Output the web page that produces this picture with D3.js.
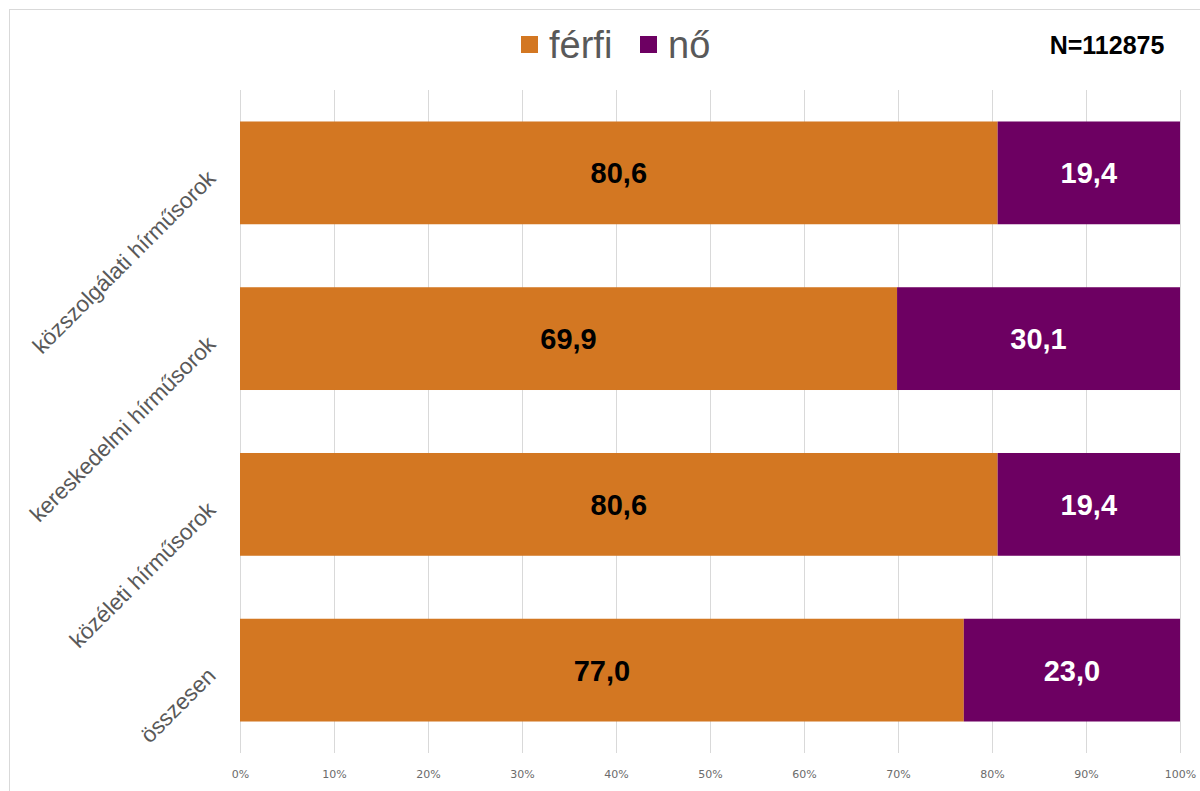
<!DOCTYPE html>
<html>
<head>
<meta charset="utf-8">
<script src="https://cdn.jsdelivr.net/npm/d3@7"></script>
<style>
    body { margin: 0; background: #fff; }
    svg { display: block; }
</style>
</head>
<body>
<svg id="chart" width="1200" height="791"></svg>
<script>
const categories = ["közszolgálati hírműsorok", "kereskedelmi hírműsorok", "közéleti hírműsorok", "összesen"];
const series = ["férfi", "nő"];
const ferfi = [80.6, 69.9, 80.6, 77.0];
const no = [19.4, 30.1, 19.4, 23.0];
const ticks = [0, 10, 20, 30, 40, 50, 60, 70, 80, 90, 100];
const note = "N=112875";

const colors = { "férfi": "#d37722", "nő": "#6d0062" };
const labelColors = { "férfi": "#000", "nő": "#fff" };

const svg = d3.select("#chart");

// chart frame (Excel style)
svg.append("rect")
    .attr("x", 9.5).attr("y", 9.5)
    .attr("width", 1200).attr("height", 800)
    .attr("fill", "none")
    .attr("stroke", "#d9d9d9");

const x = d3.scaleLinear().domain([0, 100]).range([240, 1180]);
const y = d3.scaleBand().domain(categories).range([90, 753]).paddingInner(0.38).paddingOuter(0.19);

// gridlines
svg.append("g")
    .selectAll("line")
    .data(ticks)
    .join("line")
    .attr("x1", d => Math.round(x(d)) + 0.5)
    .attr("x2", d => Math.round(x(d)) + 0.5)
    .attr("y1", 90)
    .attr("y2", 753)
    .attr("stroke", "#d9d9d9");

// tick labels
const axis = d3.axisBottom(x).tickValues(ticks).tickFormat(d => d + "%").tickSize(0);
svg.append("g")
    .attr("transform", "translate(0,767)")
    .call(axis)
    .call(g => g.select(".domain").remove())
    .selectAll("text")
    .attr("font-family", "DejaVu Sans")
    .attr("font-size", 11)
    .attr("fill", "#6b6b6b");

// stacked data
const rows = categories.map((c, i) => ({ cat: c, "férfi": ferfi[i], "nő": no[i] }));
const stacked = d3.stack().keys(series)(rows);

const layers = svg.append("g")
    .selectAll("g")
    .data(stacked)
    .join("g")
    .attr("fill", d => colors[d.key]);

layers.selectAll("rect")
    .data(d => d)
    .join("rect")
    .attr("x", d => x(d[0]))
    .attr("y", d => y(d.data.cat))
    .attr("width", d => x(d[1]) - x(d[0]))
    .attr("height", y.bandwidth());

// value labels
stacked.forEach(layer => {
    svg.append("g")
        .selectAll("text")
        .data(layer)
        .join("text")
        .attr("x", d => (x(d[0]) + x(d[1])) / 2)
        .attr("y", d => y(d.data.cat) + y.bandwidth() / 2)
        .attr("dy", "0.36em")
        .attr("text-anchor", "middle")
        .attr("font-family", "Liberation Sans, Arial, sans-serif")
        .attr("font-weight", "bold")
        .attr("font-size", 29)
        .attr("fill", labelColors[layer.key])
        .text(d => (d[1] - d[0]).toFixed(1).replace(".", ","));
});

// category labels, rotated
svg.append("g")
    .selectAll("text")
    .data(categories)
    .join("text")
    .attr("transform", d => `translate(217,${y(d) + y.bandwidth() / 2 + 7}) rotate(-45)`)
    .attr("text-anchor", "end")
    .attr("font-family", "Liberation Sans, Arial, sans-serif")
    .attr("font-size", 22.5)
    .attr("fill", "#595959")
    .text(d => d);

// legend
const legend = svg.append("g").attr("transform", "translate(521,0)");
const items = legend.selectAll("g")
    .data(series)
    .join("g")
    .attr("transform", (d, i) => `translate(${i * 119},0)`);
items.append("rect")
    .attr("x", 0).attr("y", 36)
    .attr("width", 17).attr("height", 17)
    .attr("fill", d => colors[d]);
items.append("text")
    .attr("x", 28).attr("y", 58)
    .attr("font-family", "Liberation Sans, Arial, sans-serif")
    .attr("font-size", 38)
    .attr("fill", "#595959")
    .text(d => d);

svg.append("text")
    .attr("x", 1107).attr("y", 54)
    .attr("text-anchor", "middle")
    .attr("font-family", "Liberation Sans, Arial, sans-serif")
    .attr("font-weight", "bold")
    .attr("font-size", 25)
    .attr("fill", "#000")
    .text(note);
</script>
</body>
</html>
